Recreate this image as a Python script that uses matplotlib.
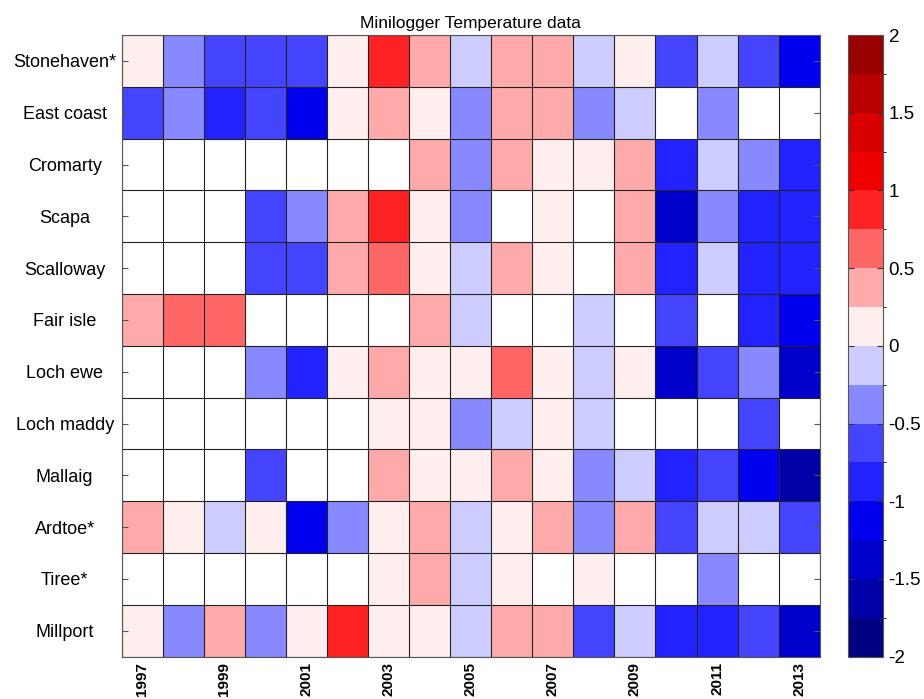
import numpy as np
import matplotlib
matplotlib.use("Agg")
import matplotlib.pyplot as plt
from matplotlib.colors import ListedColormap, BoundaryNorm

plt.rcParams['font.family'] = ['Liberation Sans', 'DejaVu Sans']

years = list(range(1997, 2014))
stations = ["Stonehaven*", "East coast", "Cromarty", "Scapa", "Scalloway", "Fair isle",
            "Loch ewe", "Loch maddy", "Mallaig", "Ardtoe*", "Tiree*", "Millport"]
N = np.nan
stonehaven = [0.1, -0.4, -0.6, -0.6, -0.6, 0.1, 0.9, 0.4, -0.1, 0.4, 0.4, -0.1, 0.1, -0.6, -0.1, -0.6, -1.1]
east_coast = [-0.6, -0.4, -0.9, -0.6, -1.1, 0.1, 0.4, 0.1, -0.4, 0.4, 0.4, -0.4, -0.1, N, -0.4, N, N]
cromarty   = [N, N, N, N, N, N, N, 0.4, -0.4, 0.4, 0.1, 0.1, 0.4, -0.9, -0.1, -0.4, -0.9]
scapa      = [N, N, N, -0.6, -0.4, 0.4, 0.9, 0.1, -0.4, N, 0.1, N, 0.4, -1.4, -0.4, -0.9, -0.9]
scalloway  = [N, N, N, -0.6, -0.6, 0.4, 0.6, 0.1, -0.1, 0.4, 0.1, N, 0.4, -0.9, -0.1, -0.9, -0.9]
fair_isle  = [0.4, 0.6, 0.6, N, N, N, N, 0.4, -0.1, N, N, -0.1, N, -0.6, N, -0.9, -1.1]
loch_ewe   = [N, N, N, -0.4, -0.9, 0.1, 0.4, 0.1, 0.1, 0.6, 0.1, -0.1, 0.1, -1.4, -0.6, -0.4, -1.4]
loch_maddy = [N, N, N, N, N, N, 0.1, 0.1, -0.4, -0.1, 0.1, -0.1, N, N, N, -0.6, N]
mallaig    = [N, N, N, -0.6, N, N, 0.4, 0.1, 0.1, 0.4, 0.1, -0.4, -0.1, -0.9, -0.6, -1.1, -1.6]
ardtoe     = [0.4, 0.1, -0.1, 0.1, -1.1, -0.4, 0.1, 0.4, -0.1, 0.1, 0.4, -0.4, 0.4, -0.6, -0.1, -0.1, -0.6]
tiree      = [N, N, N, N, N, N, 0.1, 0.4, -0.1, 0.1, N, 0.1, N, N, -0.4, N, N]
millport   = [0.1, -0.4, 0.4, -0.4, 0.1, 0.9, 0.1, 0.1, -0.1, 0.4, 0.4, -0.6, -0.1, -0.9, -0.9, -0.6, -1.4]

data = np.array([stonehaven, east_coast, cromarty, scapa, scalloway, fair_isle,
                 loch_ewe, loch_maddy, mallaig, ardtoe, tiree, millport], dtype=float)

colors = ["#000080", "#0000A8", "#0000CC", "#0000EE", "#2222FF", "#4444FF", "#8888FF", "#CCCCFF",
          "#FFEEEE", "#FFAAAA", "#FF6666", "#FF2222", "#EE0000", "#D80000", "#B80000", "#990000"]
bounds = np.linspace(-2, 2, 17)
cmap = ListedColormap(colors)
cmap.set_bad("white")
norm = BoundaryNorm(bounds, cmap.N)

fig = plt.figure(figsize=(9.24, 6.99), dpi=100)
ax = fig.add_axes([0.1317, 0.0606, 0.7554, 0.8893])
x_edges = np.arange(len(years) + 1) - 0.5
y_edges = np.arange(len(stations) + 1) - 0.5
mesh = ax.pcolormesh(x_edges, y_edges, np.ma.masked_invalid(data), cmap=cmap, norm=norm,
                     edgecolors="none")
# grid lines
for xe in x_edges:
    ax.axvline(xe, color="#222222", lw=0.8)
for ye in y_edges:
    ax.axhline(ye, color="#222222", lw=0.8)
ax.set_xlim(-0.5, len(years) - 0.5)
ax.set_ylim(len(stations) - 0.5, -0.5)
ax.set_yticks(range(len(stations)))
ax.set_yticklabels(stations, fontsize=13, ha="center")
ax.set_xticks(range(0, len(years), 2))
ax.set_xticklabels([str(y) for y in years[::2]], rotation=90, fontsize=11, fontweight="bold")
ax.tick_params(axis="y", direction="in", length=4, right=True, color="#555555", pad=41)
ax.tick_params(axis="x", direction="in", length=0, pad=4)
for s in ax.spines.values():
    s.set_color("#555555")
    s.set_linewidth(0.8)
ax.set_title("Minilogger Temperature data", fontsize=12.5, pad=5)

cax = fig.add_axes([0.9177, 0.0606, 0.0379, 0.8893])
cb = fig.colorbar(mesh, cax=cax, boundaries=bounds, ticks=np.arange(-2, 2.01, 0.5))
cb.ax.set_yticklabels(["-2", "-1.5", "-1", "-0.5", "0", "0.5", "1", "1.5", "2"], fontsize=13.5)
cb.ax.tick_params(direction="in", length=4, left=True, right=True, color="#333333", pad=4)
cb.outline.set_edgecolor("#555555")
cb.outline.set_linewidth(0.8)

fig.savefig("out.png", dpi=100)
